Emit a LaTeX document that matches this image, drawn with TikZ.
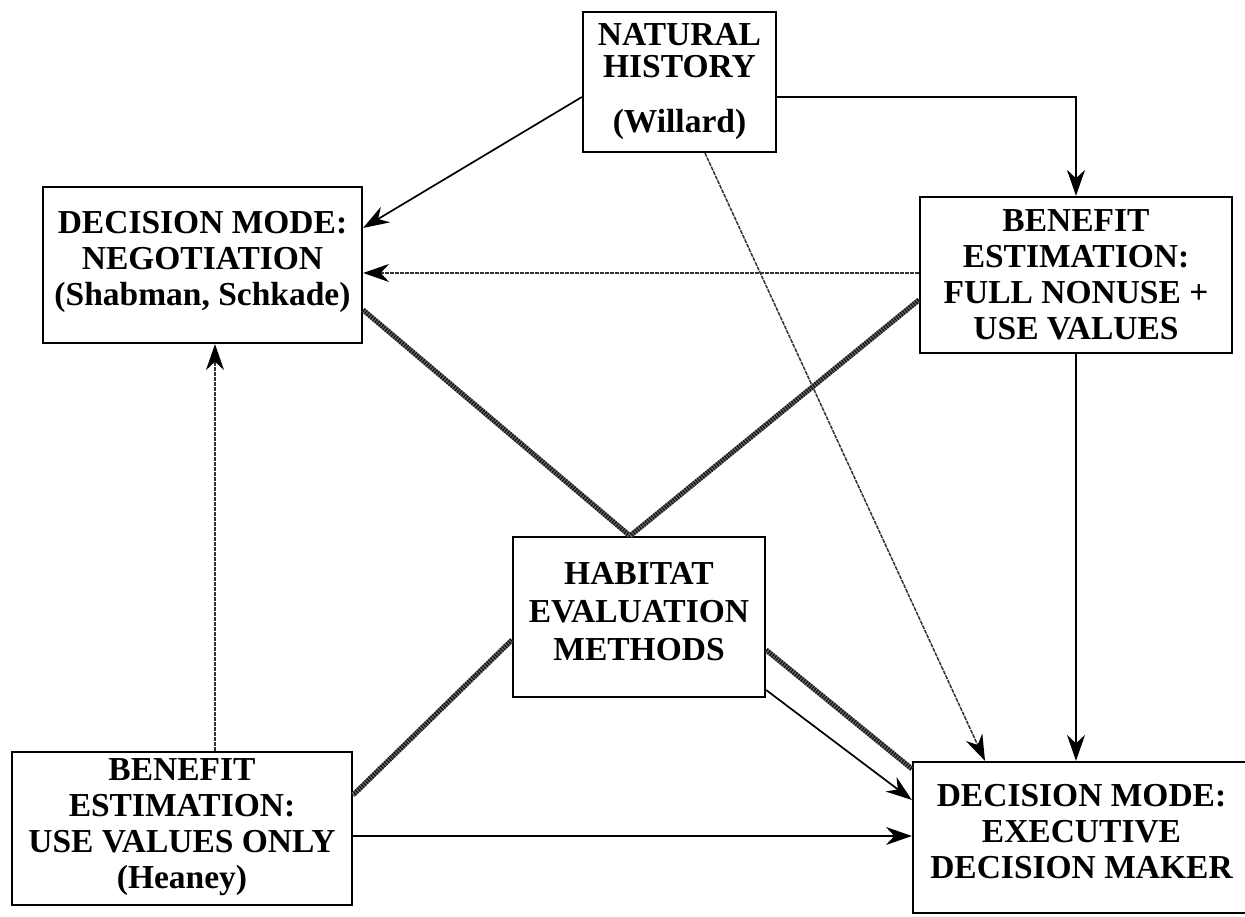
\documentclass[tikz,border=0pt]{standalone}
\usepackage{fontspec}
\setmainfont{Liberation Serif}
\usetikzlibrary{arrows.meta,calc}
\tikzset{
  box/.style={draw=black, line width=2.2pt, rectangle, align=center, inner sep=0pt,
    font=\bfseries\fontsize{33.5}{36}\selectfont},
  arr/.style={line width=1.7pt, -{Stealth[length=26pt,width=18pt]}},
  dotarr/.style={line width=1.5pt, draw=black!80, dash pattern=on 4pt off 1pt,
    -{Stealth[length=26pt,width=18pt,color=black]}},
  hatch/.style={line width=5pt, draw=black!90, dash pattern=on 1.6pt off 1.1pt,
    preaction={draw=black!50, line width=5pt}}
}
\begin{document}
\begin{tikzpicture}[x=1pt,y=1pt]
\useasboundingbox (0,0) rectangle (1245,917);
\node[box, minimum width=193pt, minimum height=140pt, font=\bfseries\fontsize{33.5}{32}\selectfont] (nat) at (679.5,835) {NATURAL\\HISTORY\\[23pt](Willard)};
\node[box, minimum width=319pt, minimum height=156pt] (neg) at (202.5,652) {DECISION MODE:\\NEGOTIATION\\(Shabman, Schkade)\\[-22pt]\mbox{}};
\node[box, minimum width=312pt, minimum height=156pt] (bfull) at (1076,642) {BENEFIT\\ESTIMATION:\\FULL NONUSE +\\USE VALUES};
\node[box, minimum width=252pt, minimum height=160pt, font=\bfseries\fontsize{33.5}{38}\selectfont] (hab) at (639,300) {HABITAT\\EVALUATION\\METHODS\\[-26pt]\mbox{}};
\node[box, minimum width=340pt, minimum height=153pt] (buse) at (182,88.5) {BENEFIT\\ESTIMATION:\\USE VALUES ONLY\\(Heaney)\\[-26pt]\mbox{}};
\node[box, minimum width=337pt, minimum height=151pt] (exec) at (1081.5,79.5) {DECISION MODE:\\EXECUTIVE\\DECISION MAKER\\[-24pt]\mbox{}};
% connectors
\draw[arr] ([yshift=-15pt]nat.west) -- ([yshift=37pt]neg.east);
\draw[arr] ([yshift=-15pt]nat.east) -| (bfull.north);
\draw[dotarr] ([xshift=25.5pt]nat.south) -- ([xshift=-96.5pt]exec.north);
\draw[dotarr] ([yshift=2pt]bfull.west) -- ([yshift=-8pt]neg.east);
\draw[arr] (bfull.south) -- (bfull.south |- exec.north);
\coordinate (top) at ([xshift=-9pt]hab.north);
\draw[hatch] ([yshift=-45pt]neg.east) -- (top);
\draw[hatch] ([yshift=-25pt]bfull.west) -- (top);
\draw[hatch] ([yshift=-23pt]hab.west) -- ([yshift=33.5pt]buse.east);
\draw[hatch] ([yshift=-33pt]hab.east) -- ([yshift=-8pt]exec.north west);
\draw[arr] ([yshift=-73pt]hab.east) -- ([yshift=37.5pt]exec.west);
\draw[dotarr] ([xshift=33pt]buse.north) -- ([xshift=12.5pt]neg.south);
\draw[arr] ([yshift=-7.5pt]buse.east) -- ([yshift=1.5pt]exec.west);
\end{tikzpicture}
\end{document}
